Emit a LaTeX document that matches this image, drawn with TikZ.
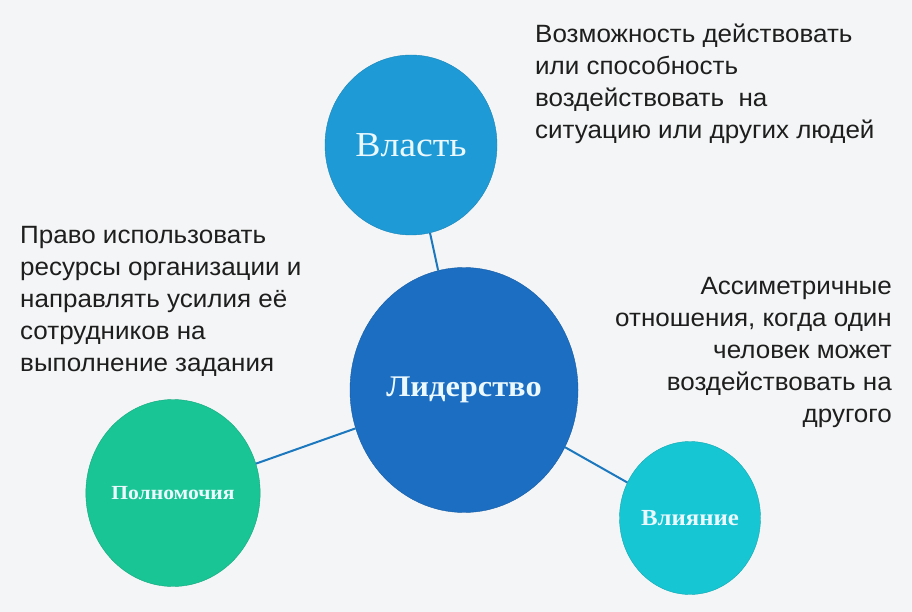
\documentclass[tikz,border=0pt]{standalone}
\usepackage{fontspec}
\setmainfont{Liberation Sans}[FakeStretch=1.04]
\newfontfamily\circfont{Liberation Serif}[FakeStretch=1.08]
\usepackage{xcolor}
\usepackage{tikz}
\usetikzlibrary{shapes.geometric}
\definecolor{cback}{HTML}{F4F5F6}
\definecolor{cvlast}{HTML}{1E9BD7}
\definecolor{clider}{HTML}{1B6EC2}
\definecolor{cpolnom}{HTML}{19C594}
\definecolor{cvliyan}{HTML}{17C6D3}
\definecolor{clink}{HTML}{1C78BE}
\definecolor{ctext}{HTML}{1E1E1E}

\begin{document}
\begin{tikzpicture}[x=1pt,y=-1pt,
  bubble/.style={ellipse,inner sep=0pt,text=white!92!cyan,font=\circfont},
  note/.style={inner sep=0pt,text=ctext,font=\fontsize{25}{32}\selectfont},
  link/.style={line width=2pt,clink}]
\fill[cback] (0,0) rectangle (912,612);
\useasboundingbox (0,0) rectangle (912,612);
% circles
\node[bubble,fill=cvlast,draw=cvlast!85!black,minimum width=172pt,minimum height=180pt,
      font=\circfont\fontsize{35}{35}\selectfont] (vlast) at (411,145) {Власть};
\node[bubble,fill=clider,draw=clider!85!black,minimum width=228pt,minimum height=245pt,
      font=\circfont\bfseries\fontsize{30}{30}\selectfont] (lider) at (464,390) {Лидерство};
\node[bubble,fill=cpolnom,draw=cpolnom!85!black,minimum width=173pt,minimum height=187pt,
      font=\circfont\bfseries\fontsize{20}{20}\selectfont] (polnom) at (173,493) {Полномочия};
\node[bubble,fill=cvliyan,draw=cvliyan!85!black,minimum width=141pt,minimum height=153pt,
      font=\circfont\bfseries\fontsize{23}{23}\selectfont] (vliyan) at (690,518) {Влияние};
% connectors
\draw[link] (lider) -- (vlast);
\draw[link] (lider) -- (polnom);
\draw[link] (lider) -- (vliyan);
% notes
\node[note,anchor=north west,align=left] (tvlast) at (535,24)
  {Возможность действовать\\или способность\\воздействовать~ на\\ситуацию или других людей};
\node[note,anchor=north west,align=left] (tpolnom) at (20,226)
  {Право использовать\\ресурсы организации и\\направлять усилия её\\сотрудников на\\выполнение задания};
\node[note,anchor=north east,align=right] (tvliyan) at (892,277)
  {Ассиметричные\\отношения, когда один\\человек может\\воздействовать на\\другого};
\end{tikzpicture}
\end{document}
